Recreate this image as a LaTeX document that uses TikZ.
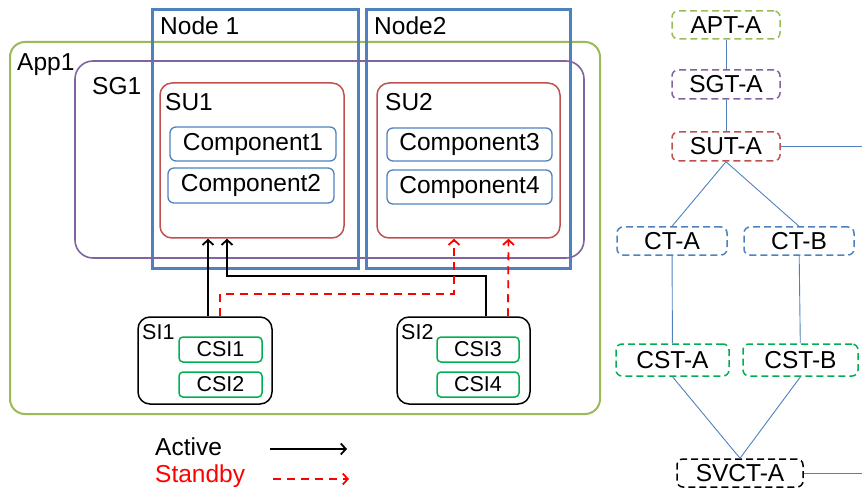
\documentclass[tikz,border=0pt]{standalone}
\usepackage{fontspec}
\setmainfont{Liberation Sans}
\usetikzlibrary{arrows.meta}

\definecolor{appgreen}{HTML}{9BBB59}
\definecolor{sgpurple}{HTML}{8064A2}
\definecolor{sured}{HTML}{C0504D}
\definecolor{nodeblue}{HTML}{4F81BD}
\definecolor{csigreen}{HTML}{00B050}

\tikzset{
  big/.style={font=\fontsize{24.5}{28}\selectfont},
  small/.style={font=\fontsize{21.5}{25}\selectfont},
  lbl/.style={big, inner sep=0pt, anchor=base west},
  box/.style={draw, rectangle, inner sep=0pt},
  nodebox/.style={box, draw=nodeblue, line width=3pt},
  appbox/.style={box, draw=appgreen, line width=2pt, rounded corners=15pt},
  sgbox/.style={box, draw=sgpurple, line width=1.6pt, rounded corners=18pt},
  subox/.style={box, draw=sured, line width=1.5pt, rounded corners=12pt},
  compbox/.style={box, big, draw=nodeblue, line width=1.3pt, rounded corners=6pt},
  sibox/.style={box, draw=black, line width=1.5pt, rounded corners=12pt},
  csibox/.style={box, small, draw=csigreen, line width=1.5pt, rounded corners=4pt},
  typebox/.style={box, big, line width=1.5pt, rounded corners=6pt, dash pattern=on 7pt off 4pt},
  link/.style={draw=nodeblue, line width=0.9pt},
  active/.style={->, black, line width=1.8pt},
  standby/.style={->, red, line width=1.8pt, dash pattern=on 8pt off 6pt}
}

\begin{document}
\begin{tikzpicture}[x=1pt, y=-1pt, >={Straight Barb[length=5pt,width=11pt]}]
  \useasboundingbox (0,0) rectangle (862,489);

  % Application
  \node[appbox, minimum width=590pt, minimum height=372pt] (app) at (305,228) {};
  \node[lbl] (app-l) at (17,71) {App1};

  % Nodes
  \node[nodebox, minimum width=206pt, minimum height=258pt] (n1) at (255,139) {};
  \node[nodebox, minimum width=204pt, minimum height=258pt] (n2) at (468,139) {};
  \node[lbl] (n1-l) at (160,35) {Node 1};
  \node[lbl] (n2-l) at (374,35) {Node2};

  % Service group
  \node[sgbox, minimum width=509pt, minimum height=197pt] (sg) at (329.5,159.5) {};
  \node[lbl] (sg-l) at (92,95) {SG1};

  % Service units
  \node[subox, minimum width=184pt, minimum height=155pt] (su1) at (252,160.5) {};
  \node[subox, minimum width=183pt, minimum height=155pt] (su2) at (468.5,160.5) {};
  \node[lbl] (su1-l) at (165,111) {SU1};
  \node[lbl] (su2-l) at (385,111) {SU2};

  % Components
  \node[compbox, minimum width=166pt, minimum height=34pt] (c1) at (253,144) {Component1};
  \node[compbox, minimum width=166pt, minimum height=35pt] (c2) at (251,185.5) {Component2};
  \node[compbox, minimum width=165pt, minimum height=33pt] (c3) at (469.5,144.5) {Component3};
  \node[compbox, minimum width=165pt, minimum height=34pt] (c4) at (469.5,187) {Component4};

  % Service instances
  \node[sibox, minimum width=134pt, minimum height=87pt] (si1) at (205,360.5) {};
  \node[sibox, minimum width=133pt, minimum height=87pt] (si2) at (463.5,360.5) {};
  \node[lbl, small] (si1-l) at (142,339) {SI1};
  \node[lbl, small] (si2-l) at (401,339) {SI2};
  \node[csibox, minimum width=83pt, minimum height=25pt] (csi1) at (220.5,349.5) {CSI1};
  \node[csibox, minimum width=83pt, minimum height=25pt] (csi2) at (220.5,384.5) {CSI2};
  \node[csibox, minimum width=82pt, minimum height=25pt] (csi3) at (478,349.5) {CSI3};
  \node[csibox, minimum width=82pt, minimum height=25pt] (csi4) at (478,384.5) {CSI4};

  % Assignments
  \draw[active] ([xshift=3pt]si1.north) -- ([xshift=-44pt]su1.south);
  \draw[active] ([xshift=22.5pt]si2.north) -- ++(0,-40) -| ([xshift=-25pt]su1.south);
  \draw[standby] ([xshift=15pt]si1.north) -- ++(0,-22) -| ([xshift=-14.5pt]su2.south);
  \draw[standby] ([xshift=44.5pt]si2.north) -- ([xshift=40pt]su2.south);

  % Legend
  \node[lbl] (act-l) at (155,455) {Active};
  \node[lbl, text=red] (stb-l) at (155,482) {Standby};
  \coordinate (act-a) at (270,449);
  \coordinate (act-b) at (347,449);
  \coordinate (stb-a) at (273,479);
  \coordinate (stb-b) at (349,479);
  \draw[active] (act-a) -- (act-b);
  \draw[standby] (stb-a) -- (stb-b);

  % Types
  \node[typebox, draw=appgreen, minimum width=108pt, minimum height=28pt] (apt) at (726,25) {APT-A};
  \node[typebox, draw=sgpurple, minimum width=108pt, minimum height=29pt] (sgt) at (726,84.5) {SGT-A};
  \node[typebox, draw=sured, minimum width=108pt, minimum height=29pt] (sut) at (726,146.5) {SUT-A};
  \node[typebox, draw=nodeblue, minimum width=110pt, minimum height=28pt] (cta) at (672,241) {CT-A};
  \node[typebox, draw=nodeblue, minimum width=110pt, minimum height=28pt] (ctb) at (799,241) {CT-B};
  \node[typebox, draw=csigreen, minimum width=113pt, minimum height=32pt] (csta) at (672.5,360) {CST-A};
  \node[typebox, draw=csigreen, minimum width=115pt, minimum height=32pt] (cstb) at (800.5,360) {CST-B};
  \node[typebox, draw=black, minimum width=126pt, minimum height=28pt] (svct) at (740,473) {SVCT-A};
  \coordinate (sut-out) at (862,146.5);
  \coordinate (svct-out) at (862,473);

  \draw[link] (apt) -- (sgt);
  \draw[link] (sgt) -- (sut);
  \draw[link] (sut.south) -- (cta.north);
  \draw[link] (sut.south) -- (ctb.north);
  \draw[link] (cta) -- (csta);
  \draw[link] (ctb) -- (cstb);
  \draw[link] (csta.south) -- (svct.north);
  \draw[link] (cstb.south) -- (svct.north);
  \draw[link] (sut.east) -- (sut-out);
  \draw[link] (svct.east) -- (svct-out);
\end{tikzpicture}
\end{document}
